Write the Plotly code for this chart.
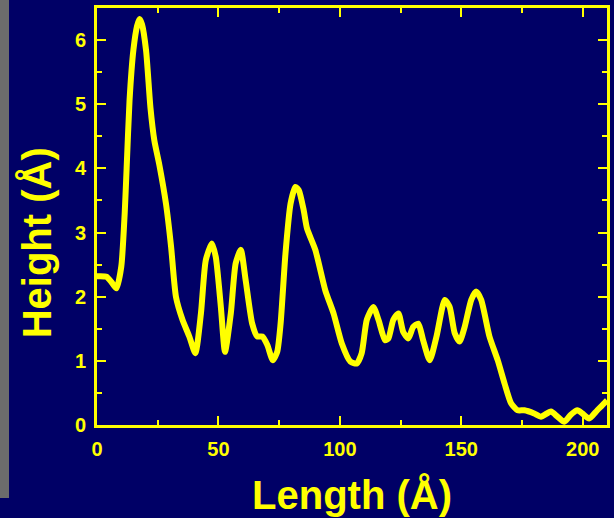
import plotly.graph_objects as go

length_A = [0, 1.1, 3.9, 5.9, 8.0, 10.0, 11.4, 12.2, 13.4, 15.0, 16.5, 17.5, 18.5, 20.2,
            22.0, 23.6, 25.7, 28.4, 30.5, 32.5, 35.2, 38.0, 40.5, 42.8, 44.8, 47.3,
            48.9, 51.0, 52.7, 55.1, 57.1, 59.2, 61.2, 63.9, 66.0, 68.0, 70.1, 72.4,
            74.2, 75.6, 77.6, 79.7, 81.7, 83.1, 85.1, 86.5, 89.9, 94.0, 97.4, 100.8,
            104.3, 107.0, 109.0, 111.1, 113.8, 115.9, 118.6, 120.0, 122.0, 124.1,
            126.1, 128.2, 130.2, 132.3, 134.3, 137.0, 139.8, 143.2, 145.2, 147.3,
            149.3, 151.4, 154.1, 156.1, 158.2, 161.6, 165.0, 167.8, 170.5, 173.2,
            176.0, 180.0, 182.8, 186.9, 189.6, 192.4, 195.1, 197.8, 199.9, 202.6,
            206.0, 209.4, 210.0]
height_A = [2.32, 2.32, 2.31, 2.23, 2.13, 2.47, 3.30, 4.00, 5.06, 5.85, 6.22, 6.33, 6.25, 5.84,
            4.95, 4.44, 4.05, 3.45, 2.78, 2.00, 1.64, 1.38, 1.12, 1.74, 2.57, 2.83,
            2.62, 1.84, 1.14, 1.74, 2.52, 2.73, 2.26, 1.58, 1.38, 1.38, 1.25, 1.01,
            1.14, 1.58, 2.67, 3.45, 3.71, 3.66, 3.35, 3.06, 2.73, 2.10, 1.74, 1.27,
            0.99, 0.96, 1.12, 1.64, 1.84, 1.64, 1.32, 1.35, 1.64, 1.74,
            1.45, 1.35, 1.53, 1.58, 1.32, 1.01, 1.38, 1.95, 1.84, 1.43,
            1.30, 1.53, 1.95, 2.08, 1.95, 1.38, 1.01, 0.65, 0.34, 0.23,
            0.23, 0.18, 0.13, 0.21, 0.13, 0.05, 0.16, 0.23, 0.18, 0.10,
            0.23, 0.36, 0.38]

x_ticks = [0, 50, 100, 150, 200]
y_ticks = [0, 1, 2, 3, 4, 5, 6]
x_title = "Length (Å)"
y_title = "Height (Å)"

NAVY = "rgb(0,0,102)"
YEL = "#FFFF00"
FONT = "Liberation Sans, Arial, sans-serif"

fig = go.Figure()
fig.add_trace(go.Scatter(x=length_A, y=height_A, mode="lines",
                         line=dict(color=YEL, width=6, shape="spline", smoothing=0.6),
                         showlegend=False, hoverinfo="skip"))

L, R, T, B = 97, 4, 8, 93
W, H = 614, 518
pw, ph = W - L - R, H - T - B


def px_x(p):
    return (p - L) / pw


def px_y(p):
    return (H - B - p) / ph


# grey strip at the far left edge
fig.add_shape(type="rect", xref="paper", yref="paper",
              x0=px_x(-2), x1=px_x(8.5), y0=px_y(498), y1=px_y(-5),
              fillcolor="#6c6c6c", line=dict(width=0), layer="below")

axis_common = dict(
    showline=True, linecolor=YEL, linewidth=3, mirror="allticks",
    ticks="inside", ticklen=9, tickwidth=2, tickcolor=YEL,
    showgrid=False, zeroline=False,
    tickfont=dict(family=FONT, size=20, color=YEL, weight="bold"),
)

fig.update_xaxes(range=[0, 210], tickvals=x_ticks, ticktext=[str(v) for v in x_ticks],
                 minor=dict(dtick=25, tick0=0, ticks="inside", ticklen=5, tickwidth=2, tickcolor=YEL),
                 title=dict(text=x_title, standoff=22,
                            font=dict(family=FONT, size=40, color=YEL, weight="bold")),
                 ticklabelstandoff=4,
                 **axis_common)
fig.update_yaxes(range=[0, 6.5], tickvals=y_ticks, ticktext=[str(v) for v in y_ticks],
                 minor=dict(dtick=0.5, tick0=0, ticks="inside", ticklen=5, tickwidth=2, tickcolor=YEL),
                 ticklabelstandoff=4,
                 **axis_common)

fig.add_annotation(text=y_title, xref="paper", yref="paper",
                   x=px_x(37), y=px_y(243), xanchor="center", yanchor="middle",
                   textangle=-90, showarrow=False,
                   font=dict(family=FONT, size=40, color=YEL, weight="bold"))

fig.update_layout(width=W, height=H, margin=dict(l=L, r=R, t=T, b=B),
                  paper_bgcolor=NAVY, plot_bgcolor=NAVY)

fig.write_html("out.html")
